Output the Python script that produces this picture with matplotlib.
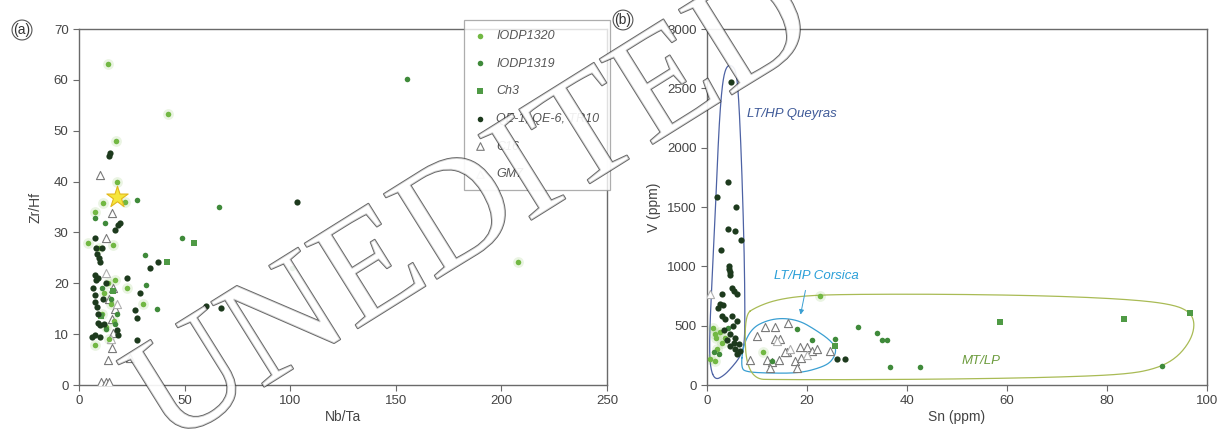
import matplotlib
matplotlib.use("Agg")
import matplotlib.pyplot as plt
import matplotlib.patheffects as pe
import numpy as np

plt.rcParams['font.family'] = ['Liberation Sans', 'DejaVu Sans']

# ---------------- panel (a): Nb/Ta vs Zr/Hf ----------------
a_iodp1320_x = [13.8, 42, 17.5, 18, 11.5, 21.8, 7.6, 4.3, 16, 17, 12, 15, 22.8, 30.4, 13, 7.6, 14, 208, 11, 16.5, 9.5, 13.5]
a_iodp1320_y = [63.1, 53.3, 48, 40, 35.8, 36, 34, 27.9, 27.5, 20.6, 18, 16, 19, 16, 11.5, 7.9, 9, 24.2, 14, 12.5, 27, 20]
a_iodp1319_x = [27.5, 7.6, 12.3, 49, 31.5, 37, 31.3, 66.5, 155.5, 101, 11, 15, 18, 13, 17]
a_iodp1319_y = [36.4, 32.8, 31.8, 29, 19.7, 15, 25.5, 35, 60.2, 23, 19, 17, 14, 11, 12]
a_ch3_x = [54.5, 41.7, 10.5, 16]
a_ch3_y = [27.9, 24.2, 13.5, 18.5]
a_qe_x = [14.7, 14.2, 19.5, 18.5, 17, 7.6, 8, 11, 8.5, 9.5, 10, 33.7, 37.5, 7.6, 9, 8, 22.8, 6.6, 7.6,
          7.6, 8.5, 29, 26.6, 27.4, 9, 10, 7.6, 10, 18, 18.5, 27.5, 60, 67.4, 103, 12, 6, 9, 11.5, 13]
a_qe_y = [45.6, 45, 31.8, 31.5, 30.5, 28.9, 27, 27, 25.8, 25, 24.2, 23, 24.2, 21.6, 21, 20.6, 21, 19, 17.7,
          16.3, 15.3, 18, 14.7, 13.2, 12.2, 11.8, 9.8, 9.5, 10.8, 9.8, 8.8, 15.5, 15.2, 36, 12, 9.5, 14, 17, 20]
a_c16_x = [10, 15.6, 12.8, 15.6, 16, 13.7, 15.6, 24, 10.4, 12.7, 14.2, 14, 17, 16]
a_c16_y = [41.3, 33.8, 28.9, 13, 10.2, 4.9, 7.3, 5.3, 0.5, 0.5, 0.5, 17, 15, 19]
a_gm7_x = [13, 18, 15]
a_gm7_y = [22, 16, 9]
a_star_x = [18]
a_star_y = [37]

# ---------------- panel (b): Sn vs V ----------------
b_iodp1320_x = [1.6, 1.8, 0.6, 1.6, 2.6, 3.6, 2.0, 11.2, 1.2, 3.0, 22.5]
b_iodp1320_y = [430, 400, 220, 200, 450, 400, 300, 280, 480, 350, 750]
b_iodp1319_x = [4.2, 1.4, 2.4, 21, 25.6, 30.2, 34, 35, 36, 36.6, 42.6, 91, 13, 18]
b_iodp1319_y = [480, 280, 265, 380, 390, 490, 440, 380, 380, 150, 150, 160, 200, 470]
b_ch3_x = [58.6, 83.4, 96.6, 25.6]
b_ch3_y = [530, 560, 605, 330]
b_qe_x = [4.8, 4.2, 5.8, 2.0, 4.1, 5.6, 6.8, 2.8, 4.4, 4.5, 4.3, 4.6, 5.0, 5.3, 6.0, 3.0, 2.6, 3.2, 2.2,
          3.0, 5.0, 3.6, 6.0, 5.2, 4.6, 5.6, 5.3, 6.3, 4.6, 5.6, 6.6, 6.0, 26, 27.6, 3.4, 4.0]
b_qe_y = [2550, 1707, 1500, 1585, 1318, 1300, 1220, 1135, 980, 950, 1000, 930, 820, 795, 770, 770, 685, 670, 650,
          580, 580, 560, 540, 500, 430, 400, 355, 345, 330, 305, 290, 260, 220, 220, 460, 380]
b_c16_x = [10, 11.6, 13.6, 16.2, 13.6, 14.6, 18.6, 20, 16, 15.6, 21, 22, 24.6, 12, 13, 14.4, 17.6, 18.8, 12.6, 18, 8.6]
b_c16_y = [410, 490, 490, 520, 390, 390, 320, 320, 280, 280, 290, 300, 290, 210, 190, 210, 200, 230, 140, 140, 210]
b_gm7_x = [0.6, 14, 16.5, 20]
b_gm7_y = [770, 370, 300, 250]

# field outlines (Sn, V)
queyras_x = [1.6, 0.6, 0.5, 0.9, 1.5, 2.0, 2.5, 3.1, 3.8, 4.8, 5.8, 6.3, 6.8, 7.2, 7.5, 7.6, 7.4, 6.5, 5.0, 3.4, 1.6]
queyras_y = [40, 150, 400, 800, 1300, 1800, 2250, 2550, 2680, 2700, 2650, 2450, 2000, 1500, 1000, 500, 320, 230, 150, 80, 40]
corsica_x = [6.8, 7.2, 9.0, 12.0, 15.2, 18.6, 21.5, 24.6, 26.0, 25.0, 23.0, 18.6, 12.0, 8.0, 6.8]
corsica_y = [140, 330, 480, 545, 565, 540, 470, 380, 300, 200, 150, 100, 100, 110, 140]
mtlp_x = [7.4, 10, 14, 20, 30, 50, 70, 85, 93, 96.5, 97.6, 96.8, 94, 90, 84, 70, 50, 30, 15, 8, 7.4]
mtlp_y = [590, 660, 720, 755, 765, 765, 750, 720, 680, 620, 520, 380, 230, 140, 90, 65, 50, 45, 45, 50, 590]


def smooth(xs, ys, n=4):
    # Chaikin corner cutting to round the hand-drawn field outlines
    p = np.column_stack([xs, ys]).astype(float)
    for _ in range(n):
        q = 0.75 * p[:-1] + 0.25 * p[1:]
        r = 0.25 * p[:-1] + 0.75 * p[1:]
        p = np.empty((2 * len(q), 2))
        p[0::2] = q
        p[1::2] = r
        p = np.vstack([p, p[:1]])
    return p[:, 0], p[:, 1]


c1320 = '#72b843'
c1319 = '#3f8a3a'
cch3 = '#4f9a45'
cqe = '#1d3a1d'
cc16 = '#7a7a7a'
cgm7 = '#b0b0b0'
spine_c = '#6a6a6a'
txt_c = '#444444'

fig = plt.figure(figsize=(12.28, 4.37), dpi=100)
axa = fig.add_axes([79 / 1228, 1 - 385 / 437, 528 / 1228, 356 / 437])
axb = fig.add_axes([707 / 1228, 1 - 385 / 437, 500 / 1228, 356 / 437])


def draw_series(ax, x1320, y1320, x1319, y1319, xch3, ych3, xqe, yqe, xc16, yc16, xgm7, ygm7):
    ax.scatter(x1320, y1320, s=60, color=c1320, alpha=0.15, lw=0, zorder=2)
    ax.scatter(xc16, yc16, s=34, marker='^', facecolor='white', edgecolor=cc16, lw=0.8, zorder=3)
    ax.scatter(xgm7, ygm7, s=34, marker='^', facecolor='white', edgecolor=cgm7, lw=0.8, zorder=3)
    ax.scatter(x1320, y1320, s=16, color=c1320, lw=0, zorder=4)
    ax.scatter(x1319, y1319, s=16, color=c1319, lw=0, zorder=4)
    ax.scatter(xch3, ych3, s=15, marker='s', color=cch3, lw=0, zorder=4)
    ax.scatter(xqe, yqe, s=20, color=cqe, lw=0, zorder=5)


draw_series(axa, a_iodp1320_x, a_iodp1320_y, a_iodp1319_x, a_iodp1319_y, a_ch3_x, a_ch3_y,
            a_qe_x, a_qe_y, a_c16_x, a_c16_y, a_gm7_x, a_gm7_y)
axa.scatter(a_star_x, a_star_y, s=260, marker='*', facecolor='#f6e63c', edgecolor='#e2b81e', lw=0.8, zorder=6)

draw_series(axb, b_iodp1320_x, b_iodp1320_y, b_iodp1319_x, b_iodp1319_y, b_ch3_x, b_ch3_y,
            b_qe_x, b_qe_y, b_c16_x, b_c16_y, b_gm7_x, b_gm7_y)

for xs, ys, col in [(queyras_x, queyras_y, '#4d62a4'), (corsica_x, corsica_y, '#3a9fd2'), (mtlp_x, mtlp_y, '#a9bb55')]:
    sx, sy = smooth(xs, ys)
    axb.plot(sx, sy, color=col, lw=0.9, zorder=1)

axb.text(8, 2280, 'LT/HP Queyras', style='italic', color='#3f5a98', fontsize=9.5, va='center')
axb.text(13.5, 920, 'LT/HP Corsica', style='italic', color='#2a9fd8', fontsize=9.5, va='center')
axb.text(51, 200, 'MT/LP', style='italic', color='#6d9c3e', fontsize=9.5, va='center')
axb.annotate('', xy=(18.6, 570), xytext=(19.8, 820),
             arrowprops=dict(arrowstyle='-|>', color='#3a9fd2', lw=0.7, mutation_scale=7))

axa.set_xlim(0, 250)
axa.set_ylim(0, 70)
axa.set_xticks(range(0, 251, 50))
axa.set_yticks(range(0, 71, 10))
axb.set_xlim(0, 100)
axb.set_ylim(0, 3000)
axb.set_xticks(range(0, 101, 20))
axb.set_yticks(range(0, 3001, 500))

for ax in (axa, axb):
    for s in ax.spines.values():
        s.set_color(spine_c)
        s.set_linewidth(1.0)
    ax.tick_params(direction='out', length=4, width=0.8, color=spine_c, labelcolor=txt_c, labelsize=9.5)

axa.set_xlabel('Nb/Ta', color=txt_c, fontsize=10, labelpad=2)
axa.set_ylabel('Zr/Hf', color=txt_c, fontsize=10, labelpad=8)
axb.set_xlabel('Sn (ppm)', color=txt_c, fontsize=10, labelpad=2)
axb.set_ylabel('V (ppm)', color=txt_c, fontsize=10, labelpad=4)

# legend
h = [
    axa.scatter([], [], s=16, color=c1320, lw=0),
    axa.scatter([], [], s=16, color=c1319, lw=0),
    axa.scatter([], [], s=15, marker='s', color=cch3, lw=0),
    axa.scatter([], [], s=16, color=cqe, lw=0),
    axa.scatter([], [], s=30, marker='^', facecolor='white', edgecolor=cc16, lw=0.8),
    axa.scatter([], [], s=30, marker='^', facecolor='white', edgecolor=cgm7, lw=0.8),
]
labels = ['IODP1320', 'IODP1319', 'Ch3', 'QE-1, QE-6, TR10', 'C16', 'GM7']
leg = fig.legend(h, labels, loc='upper left', bbox_to_anchor=(464 / 1228, 1 - 20 / 437),
                 fontsize=9, frameon=True, fancybox=False, labelspacing=1.25, handlelength=1.0,
                 handletextpad=0.8, borderpad=0.8, borderaxespad=0, labelcolor='#555555')
leg.get_frame().set_edgecolor('#999999')
leg.get_frame().set_linewidth(0.9)
for t in leg.get_texts():
    t.set_style('italic')

# panel tags
fig.text(22 / 1228, 1 - 30 / 437, '(a)', fontsize=10, color='#333333', ha='center', va='center',
         bbox=dict(boxstyle='circle,pad=0.1', fc='white', ec='#555555', lw=0.8))
fig.text(623 / 1228, 1 - 20 / 437, '(b)', fontsize=10, color='#333333', ha='center', va='center',
         bbox=dict(boxstyle='circle,pad=0.1', fc='white', ec='#555555', lw=0.8))

# watermark
fig.text(475 / 1228, 1 - 212 / 437, 'UNEDITED', family='Liberation Serif', fontsize=110, rotation=32,
         ha='center', va='center', color='white', alpha=0.7, zorder=20,
         path_effects=[pe.Stroke(linewidth=1.3, foreground='#222222'), pe.Normal()])

fig.savefig('out.png', dpi=100)
